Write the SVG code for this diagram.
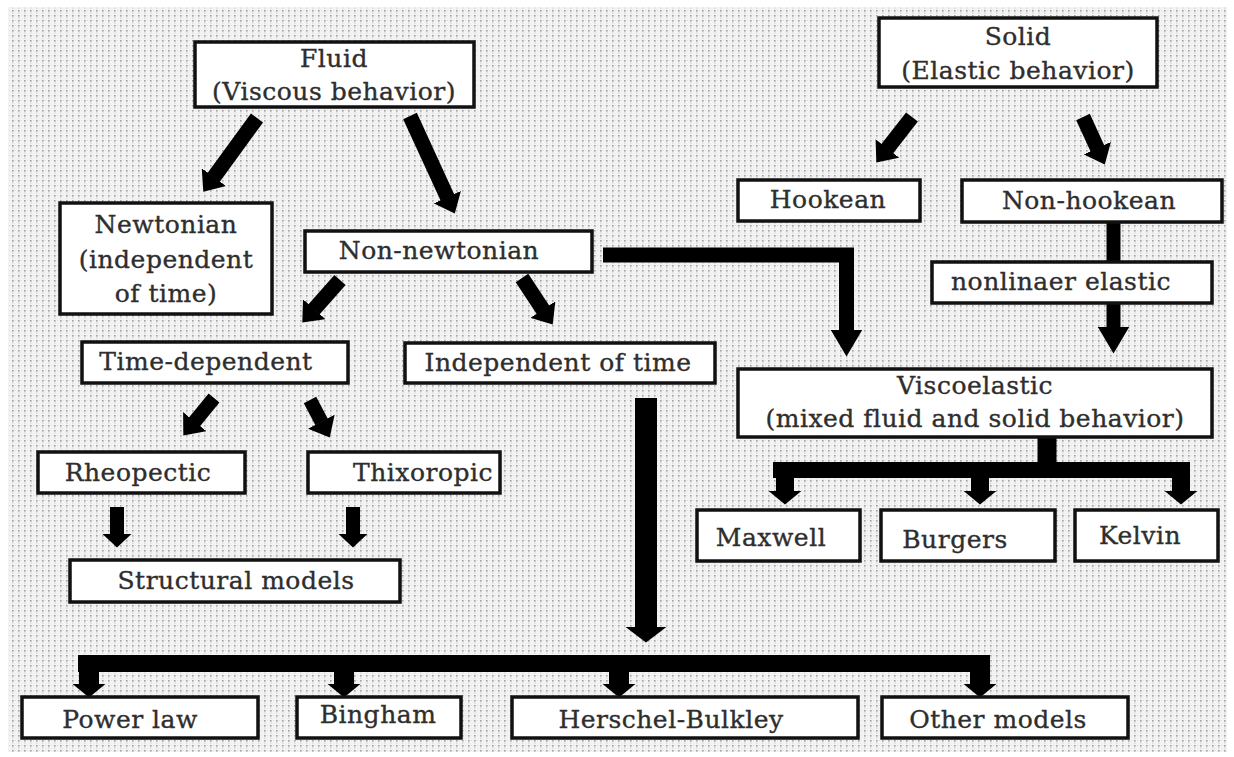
<svg xmlns="http://www.w3.org/2000/svg" width="1234" height="757" viewBox="0 0 1234 757">
  <style>
    .box rect { fill: #ffffff; stroke: #111111; stroke-width: 3.5; }
    .box text { font-family: "DejaVu Serif", "Liberation Serif", serif; font-size: 25px; letter-spacing: 0.5px; fill: #2e2e2e; stroke: #2e2e2e; stroke-width: 0.35; text-anchor: middle; }
    .conn path { fill: none; stroke: #000000; stroke-linecap: butt; stroke-linejoin: miter; }
  </style>
  <defs>
    <!-- dotted screen used for the page background -->
    <pattern id="dots" width="6" height="5" patternUnits="userSpaceOnUse">
      <rect width="6" height="5" fill="#f3f3f3"/>
      <rect x="0" y="0" width="1.6" height="1.6" fill="#a0a0a0"/>
      <rect x="0" y="2.6" width="1.6" height="1" fill="#d2d2d2"/>
      <rect x="3" y="0" width="1" height="1" fill="#e0e0e0"/>
    </pattern>
    <!-- arrowheads of several sizes -->
    <marker id="hDiag" markerUnits="userSpaceOnUse" markerWidth="18" markerHeight="30" viewBox="0 0 18 30" refX="0.5" refY="15" orient="auto">
      <path d="M0,0 L18,15 L0,30 Z" fill="#000"/>
    </marker>
    <marker id="hSmall" markerUnits="userSpaceOnUse" markerWidth="14" markerHeight="30" viewBox="0 0 14 30" refX="0.5" refY="15" orient="auto">
      <path d="M0,0 L14,15 L0,30 Z" fill="#000"/>
    </marker>
    <marker id="hBig" markerUnits="userSpaceOnUse" markerWidth="16" markerHeight="42" viewBox="0 0 16 42" refX="0.5" refY="21" orient="auto">
      <path d="M0,0 L16,21 L0,42 Z" fill="#000"/>
    </marker>
    <marker id="hMid" markerUnits="userSpaceOnUse" markerWidth="27" markerHeight="32" viewBox="0 0 27 32" refX="0.5" refY="16" orient="auto">
      <path d="M0,0 L27,16 L0,32 Z" fill="#000"/>
    </marker>
    <marker id="hDrop" markerUnits="userSpaceOnUse" markerWidth="14" markerHeight="34" viewBox="0 0 14 34" refX="0.5" refY="17" orient="auto">
      <path d="M0,0 L14,17 L0,34 Z" fill="#000"/>
    </marker>
  </defs>

  <rect width="1234" height="757" fill="#ffffff"/>
  <rect x="8" y="7" width="1219" height="745" fill="url(#dots)"/>

  <g id="connectors" class="conn">
    <!-- diagonal branches -->
    <path d="M257,118 L213.6,177.5" stroke-width="15" marker-end="url(#hDiag)"/>
    <path d="M410,116 L447.5,197.6" stroke-width="15" marker-end="url(#hDiag)"/>
    <path d="M912,117 L887.1,148.8" stroke-width="15" marker-end="url(#hDiag)"/>
    <path d="M1083,117 L1097.5,148.6" stroke-width="15" marker-end="url(#hDiag)"/>
    <path d="M340,280 L313.9,309.5" stroke-width="15" marker-end="url(#hDiag)"/>
    <path d="M522,278 L543.1,310" stroke-width="15" marker-end="url(#hDiag)"/>
    <path d="M214,398 L194.4,422" stroke-width="14" marker-end="url(#hDiag)"/>
    <path d="M310,400 L321.6,422.1" stroke-width="14" marker-end="url(#hDiag)"/>
    <!-- into structural models -->
    <path d="M117,507 V534" stroke-width="14" marker-end="url(#hSmall)"/>
    <path d="M353,507 V534" stroke-width="14" marker-end="url(#hSmall)"/>
    <!-- independent of time down to the model bar -->
    <path d="M646,398 V627" stroke-width="22" marker-end="url(#hBig)"/>
    <path d="M78,663.5 H990" stroke-width="17"/>
    <path d="M89,660 V684" stroke-width="20" marker-end="url(#hDrop)"/>
    <path d="M344,660 V684" stroke-width="20" marker-end="url(#hDrop)"/>
    <path d="M619,660 V684" stroke-width="20" marker-end="url(#hDrop)"/>
    <path d="M980,660 V684" stroke-width="20" marker-end="url(#hDrop)"/>
    <!-- non-newtonian elbow into viscoelastic -->
    <path d="M603,255 H846.5 V330" stroke-width="15" marker-end="url(#hMid)"/>
    <!-- solid side chain -->
    <path d="M1113.5,222 V262" stroke-width="14"/>
    <path d="M1113.5,303 V327" stroke-width="14" marker-end="url(#hMid)"/>
    <!-- viscoelastic split -->
    <path d="M1047,437 V472" stroke-width="19"/>
    <path d="M773,470 H1190" stroke-width="16"/>
    <path d="M785,466 V491" stroke-width="18" marker-end="url(#hDrop)"/>
    <path d="M980,466 V491" stroke-width="18" marker-end="url(#hDrop)"/>
    <path d="M1181,466 V491" stroke-width="18" marker-end="url(#hDrop)"/>
  </g>

  <g id="fluid" class="box">
    <rect x="195" y="42" width="279" height="65"/>
    <text x="334" y="67">Fluid</text>
    <text x="334" y="100">(Viscous behavior)</text>
  </g>
  <g id="solid" class="box">
    <rect x="879" y="18" width="278" height="69"/>
    <text x="1018" y="45">Solid</text>
    <text x="1018" y="79">(Elastic behavior)</text>
  </g>
  <g id="newtonian" class="box">
    <rect x="60" y="203" width="212" height="111"/>
    <text x="166" y="233">Newtonian</text>
    <text x="166" y="268">(independent</text>
    <text x="166" y="302">of time)</text>
  </g>
  <g id="non-newtonian" class="box">
    <rect x="305" y="231" width="287" height="41"/>
    <text x="439" y="259">Non-newtonian</text>
  </g>
  <g id="hookean" class="box">
    <rect x="738" y="180" width="182" height="41"/>
    <text x="828" y="208">Hookean</text>
  </g>
  <g id="non-hookean" class="box">
    <rect x="962" y="180" width="260" height="42"/>
    <text x="1089" y="209">Non-hookean</text>
  </g>
  <g id="nonlinear-elastic" class="box">
    <rect x="932" y="262" width="280" height="41"/>
    <text x="1061" y="290">nonlinaer elastic</text>
  </g>
  <g id="time-dependent" class="box">
    <rect x="82" y="342" width="266" height="41"/>
    <text x="206" y="370">Time-dependent</text>
  </g>
  <g id="independent-of-time" class="box">
    <rect x="405" y="343" width="310" height="40"/>
    <text x="558" y="371">Independent of time</text>
  </g>
  <g id="viscoelastic" class="box">
    <rect x="738" y="369" width="474" height="68"/>
    <text x="975" y="394">Viscoelastic</text>
    <text x="975" y="427">(mixed fluid and solid behavior)</text>
  </g>
  <g id="rheopectic" class="box">
    <rect x="38" y="452" width="207" height="41"/>
    <text x="138" y="481">Rheopectic</text>
  </g>
  <g id="thixoropic" class="box">
    <rect x="308" y="452" width="192" height="41"/>
    <text x="423" y="481">Thixoropic</text>
  </g>
  <g id="structural-models" class="box">
    <rect x="70" y="560" width="330" height="42"/>
    <text x="236" y="589">Structural models</text>
  </g>
  <g id="maxwell" class="box">
    <rect x="697" y="510" width="163" height="51"/>
    <text x="771" y="546">Maxwell</text>
  </g>
  <g id="burgers" class="box">
    <rect x="881" y="510" width="174" height="51"/>
    <text x="955" y="548">Burgers</text>
  </g>
  <g id="kelvin" class="box">
    <rect x="1075" y="510" width="143" height="51"/>
    <text x="1140" y="544">Kelvin</text>
  </g>
  <g id="power-law" class="box">
    <rect x="22" y="697" width="236" height="41"/>
    <text x="130" y="728">Power law</text>
  </g>
  <g id="bingham" class="box">
    <rect x="297" y="697" width="164" height="41"/>
    <text x="378" y="723">Bingham</text>
  </g>
  <g id="herschel-bulkley" class="box">
    <rect x="512" y="697" width="346" height="41"/>
    <text x="671" y="728">Herschel-Bulkley</text>
  </g>
  <g id="other-models" class="box">
    <rect x="882" y="697" width="246" height="41"/>
    <text x="998" y="728">Other models</text>
  </g>
</svg>
